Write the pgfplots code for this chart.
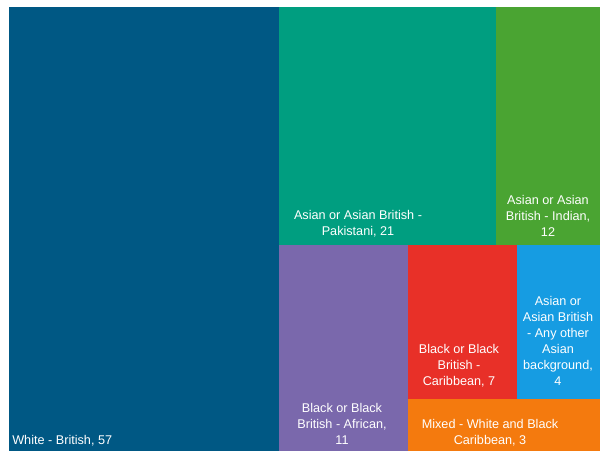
\documentclass[border=0pt]{standalone}
\usepackage{pgfplots}
\pgfplotsset{compat=1.18}
\usepackage{fontspec}
\setmainfont{Liberation Sans}
\definecolor{cWhite}{RGB}{0,88,132}
\definecolor{cPak}{RGB}{0,158,128}
\definecolor{cInd}{RGB}{74,164,50}
\definecolor{cAfr}{RGB}{122,104,172}
\definecolor{cCar}{RGB}{232,48,40}
\definecolor{cOth}{RGB}{22,156,226}
\definecolor{cMix}{RGB}{244,122,14}
\begin{document}
\begin{tikzpicture}
\begin{axis}[
  scale only axis, width=15.125cm, height=11.35cm,
  xmin=0, xmax=605, ymin=0, ymax=454, y dir=reverse,
  hide axis, clip=false,
]
\path (axis cs:0,0) rectangle (axis cs:605,454);
% treemap tiles: value -> rectangle (x1,y1)-(x2,y2) in layout units
% White - British, 57
\addplot[fill=cWhite, draw=none, mark=none] coordinates {(9,7) (279,7) (279,451) (9,451)} -- cycle;
% Asian or Asian British - Pakistani, 21
\addplot[fill=cPak, draw=none, mark=none] coordinates {(279,7) (496,7) (496,245) (279,245)} -- cycle;
% Asian or Asian British - Indian, 12
\addplot[fill=cInd, draw=none, mark=none] coordinates {(496,7) (600,7) (600,245) (496,245)} -- cycle;
% Black or Black British - African, 11
\addplot[fill=cAfr, draw=none, mark=none] coordinates {(279,245) (408,245) (408,451) (279,451)} -- cycle;
% Black or Black British - Caribbean, 7
\addplot[fill=cCar, draw=none, mark=none] coordinates {(408,245) (517,245) (517,399) (408,399)} -- cycle;
% Asian or Asian British - Any other Asian background, 4
\addplot[fill=cOth, draw=none, mark=none] coordinates {(517,245) (600,245) (600,399) (517,399)} -- cycle;
% Mixed - White and Black Caribbean, 3
\addplot[fill=cMix, draw=none, mark=none] coordinates {(408,399) (600,399) (600,451) (408,451)} -- cycle;

\begin{scope}[every node/.style={text=white, font=\fontsize{9}{11.3}\selectfont, align=center, inner sep=0pt}]
\node[anchor=west] at (axis cs:12,441) {White - British, 57};
\node at (axis cs:358,224) {Asian or Asian British -\\Pakistani, 21};
\node at (axis cs:548,216) {Asian or Asian\\British - Indian,\\12};
\node at (axis cs:342,424) {Black or Black\\British - African,\\11};
\node at (axis cs:459,366) {Black or Black\\British -\\Caribbean, 7};
\node at (axis cs:558,341) {Asian or\\Asian British\\- Any other\\Asian\\background,\\4};
\node at (axis cs:490,433) {Mixed - White and Black\\Caribbean, 3};
\end{scope}
\end{axis}
\end{tikzpicture}
\end{document}
